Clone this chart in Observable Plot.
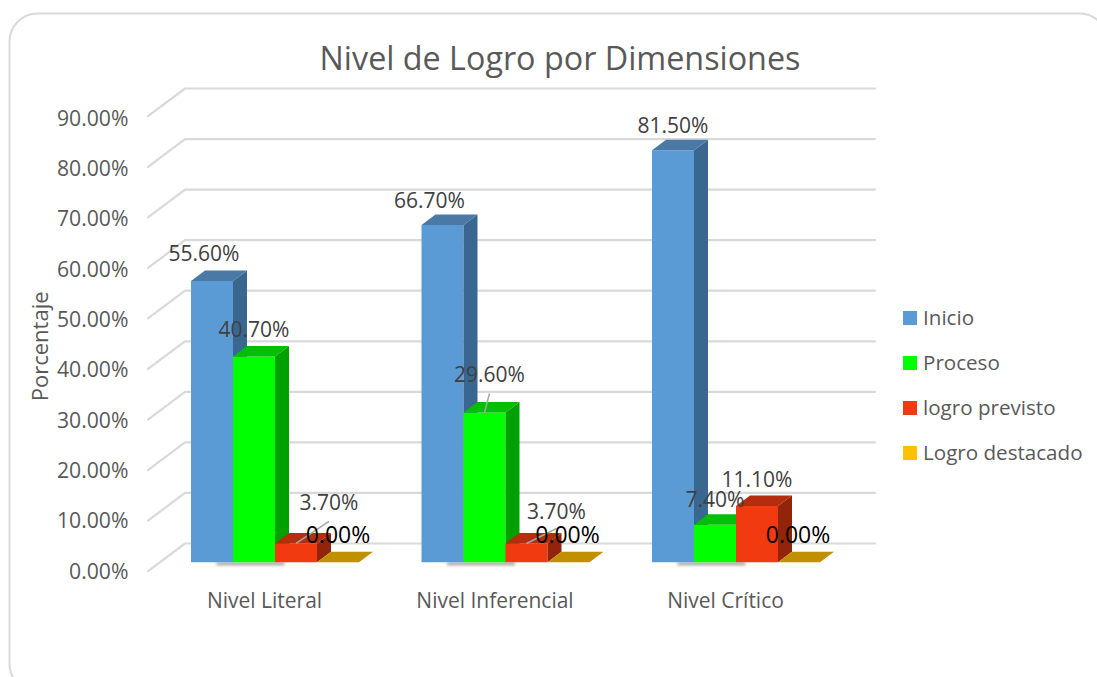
<!DOCTYPE html>
<html>
<head>
<meta charset="utf-8">
<script src="https://cdn.jsdelivr.net/npm/d3@7"></script>
<script src="https://cdn.jsdelivr.net/npm/@observablehq/plot@0.6"></script>
<style>
html,body{margin:0;padding:0;background:#fff;overflow:hidden}
#wrap{position:relative;width:1097px;height:677px;font-family:"Open Sans",sans-serif}
#wrap svg{display:block;position:absolute;left:0;top:0}
#title{position:absolute;left:0;width:1120px;top:35px;text-align:center;font-size:32.3px;line-height:44px;color:#595959}
.lg{position:absolute;left:903px;height:20px;line-height:20px;font-size:20.6px;color:#595959;white-space:nowrap}
.lg i{display:inline-block;position:absolute;left:0;top:3px;width:14px;height:14px}
.lg span{position:absolute;left:20px;top:-1px}
.bar-shadow{filter:blur(1.8px)}
</style>
</head>
<body>
<div id="wrap"><div id="title">Nivel de Logro por Dimensiones</div></div>
<script>
const categories = ["Nivel Literal", "Nivel Inferencial", "Nivel Crítico"];
const seriesNames = ["Inicio", "Proceso", "logro previsto", "Logro destacado"];
const inicio = [55.6, 66.7, 81.5];
const proceso = [40.7, 29.6, 7.4];
const logroPrevisto = [3.7, 3.7, 11.1];
const logroDestacado = [0, 0, 0];
const yTicks = [0, 10, 20, 30, 40, 50, 60, 70, 80, 90];

const seriesValues = [inicio, proceso, logroPrevisto, logroDestacado];
const legendColors = ["#5B9BD5", "#00FF00", "#F23A11", "#FFC000"];
const frontColors = ["#5B9BD5", "#00FF00", "#F23A11", "#C09000"];
const topColors = ["#4A79A6", "#00BF00", "#B52D0D", "#C09000"];
const sideColors = ["#3A678F", "#00A000", "#912409", "#C09000"];

// Label placement, pixels from each bar's top-centre: [series][category]
const labelShift = [
  [[-8, -27], [-13, -24], [0, -24]],
  [[0, -26], [5, -37], [0, -25]],
  [[33, -40], [30, -31], [0, -26]],
  [[0, -27], [-1, -27], [-1, -27]]
];
// Leader lines, end point in pixels from the bar's top-centre
const leaders = [
  {s: 2, c: 0, dx2: 33, dy2: -22},
  {s: 1, c: 1, dx2: 5, dy2: -19},
  {s: 2, c: 1, dx2: 30, dy2: -15}
];

const pxX = 230.5, pxY = 5.055;       // pixels per category step and per percent
const barW = 42 / pxX;
const depthX = 14 / pxX, depthY = 10.5 / pxY;
const wallX = 37 / pxX;
const floorBack = 18.7 / pxY, floorFront = 9 / pxY;
const wallRight = 600 / pxX;
const wallLeft = -90 / pxX;

const faces = [], labels = [], shadows = [];
categories.forEach((cat, c) => {
  shadows.push({x1: c - 58 / pxX, x2: c + 10 / pxX});
  seriesValues.forEach((vals, s) => {
    const v = vals[c], x1 = c + (s - 2) * barW, x2 = x1 + barW;
    const poly = (face, color, pts) => pts.forEach(([x, y]) => faces.push({id: `${c}-${s}-${face}`, color, x, y}));
    poly("front", frontColors[s], [[x1, 0], [x2, 0], [x2, v], [x1, v]]);
    poly("side", sideColors[s], [[x2, 0], [x2 + depthX, depthY], [x2 + depthX, v + depthY], [x2, v]]);
    poly("top", topColors[s], [[x1, v], [x2, v], [x2 + depthX, v + depthY], [x1 + depthX, v + depthY]]);
    labels.push({x: (x1 + x2) / 2, y: v, text: v.toFixed(2) + "%", s, c});
  });
});

const wallLines = yTicks.flatMap(t => [
  {t, x: wallLeft - wallX, y: t - floorFront},
  {t, x: wallLeft, y: t + floorBack},
  {t, x: wallRight, y: t + floorBack}
]);

const barX = (s, c) => c + (s - 2) * barW + barW / 2;

const marks = [
  Plot.frame({stroke: "#d9d9d9", strokeWidth: 2, rx: 28, insetLeft: 9, insetTop: 13, insetRight: -10, insetBottom: -14}),
  Plot.line(wallLines, {x: "x", y: "y", z: "t", stroke: "#d9d9d9", strokeWidth: 2.2}),
  Plot.rect(shadows, {x1: "x1", x2: "x2", y1: -0.7, y2: -0.1, fill: "#777", fillOpacity: 0.7, className: "bar-shadow"}),
  Plot.line(faces, {x: "x", y: "y", z: "id", fill: "color", stroke: null}),
  ...leaders.map(l => Plot.link([l], {
    x1: d => barX(d.s, d.c), y1: d => seriesValues[d.s][d.c],
    x2: d => barX(d.s, d.c) + d.dx2 / pxX, y2: d => seriesValues[d.s][d.c] - d.dy2 / pxY,
    stroke: "#a6a6a6", strokeWidth: 1.5
  })),
  ...labels.filter(d => d.s < 3).map(d => Plot.text([d], {
    x: "x", y: "y", text: "text", dx: labelShift[d.s][d.c][0], dy: labelShift[d.s][d.c][1],
    fontSize: 21, fill: "#404040"
  })),
  ...labels.filter(d => d.s === 3).map(d => Plot.text([d], {
    x: "x", y: "y", text: "text", dx: labelShift[d.s][d.c][0], dy: labelShift[d.s][d.c][1],
    fontSize: 23, fill: "#000"
  })),
  Plot.text(yTicks, {y: d => d * 5.033 / 5.055, text: d => d.toFixed(2) + "%", frameAnchor: "left", textAnchor: "end", dx: 128, dy: 9.6, fontSize: 21.2, fill: "#595959"}),
  Plot.text(categories, {x: (d, i) => i, y: () => 0, text: d => d, dx: -10.5, dy: 39, fontSize: 21, fill: "#595959"}),
  Plot.text(["Porcentaje"], {y: () => 42.7, text: d => d, frameAnchor: "left", textAnchor: "middle", dx: 40, rotate: -90, fontSize: 22, fill: "#595959"})
];

const chart = Plot.plot({
  width: 1097, height: 677, margin: 0,
  style: {fontFamily: '"Open Sans", sans-serif', background: "transparent", overflow: "hidden"},
  x: {domain: [0, 2], range: [274.5, 735.5], axis: null},
  y: {domain: [0, 90], range: [561.7, 106.7], axis: null},
  color: {type: "identity"},
  marks
});
const wrap = document.getElementById("wrap");
wrap.insertBefore(chart, wrap.firstChild);
seriesNames.forEach((n, i) => {
  const row = document.createElement("div");
  row.className = "lg";
  row.style.top = (308 + i * 45) + "px";
  row.innerHTML = `<i style="background:${legendColors[i]}"></i><span>${n}</span>`;
  wrap.appendChild(row);
});
</script>
</body>
</html>
